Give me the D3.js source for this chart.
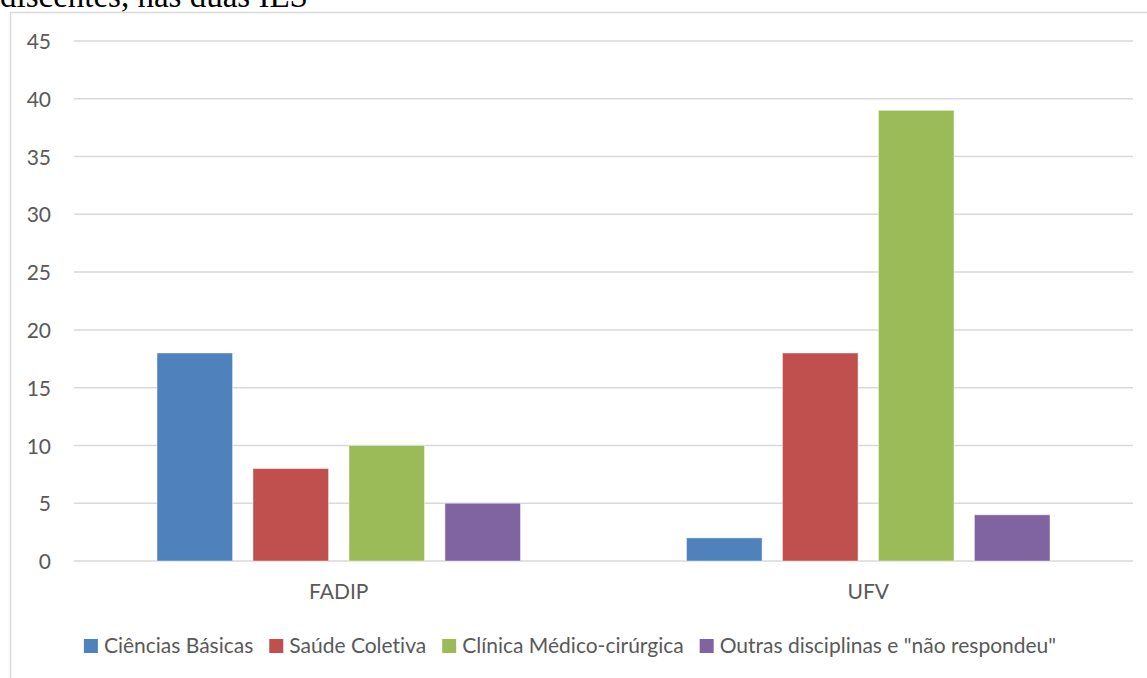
<!DOCTYPE html>
<html>
<head>
<meta charset="utf-8">
<script src="https://cdn.jsdelivr.net/npm/d3@7"></script>
<style>
  html, body { margin: 0; padding: 0; background: #fff; }
  svg { display: block; }
  text { font-variant-ligatures: none; font-feature-settings: "liga" 0, "dlig" 0; }
</style>
</head>
<body>
<svg id="chart" width="1147" height="678"></svg>
<script>
const categories = ["FADIP", "UFV"];
const seriesNames = ["Ciências Básicas", "Saúde Coletiva", "Clínica Médico-cirúrgica", "Outras disciplinas e \"não respondeu\""];
const seriesColors = ["#4f81bd", "#c0504d", "#9bbb59", "#8064a2"];
const cienciasBasicas = [18, 2];
const saudeColetiva = [8, 18];
const clinicaMedica = [10, 39];
const outras = [5, 4];
const yTicks = [0, 5, 10, 15, 20, 25, 30, 35, 40, 45];
const titleText = "discentes, nas duas IES";

const seriesValues = [cienciasBasicas, saudeColetiva, clinicaMedica, outras];

const svg = d3.select("#chart");
const FONT = "Lato, 'Open Sans', sans-serif";
const TXT = "#595959";

// title fragment (cut off at top, as in the reference)
svg.append("text")
  .attr("x", 0).attr("y", 7)
  .attr("font-family", "'Liberation Serif', 'Times New Roman', serif")
  .attr("font-size", 33)
  .attr("fill", "#000")
  .text(titleText);

// chart frame
svg.append("rect")
  .attr("x", 10.5).attr("y", 12.5)
  .attr("width", 1200).attr("height", 700)
  .attr("fill", "none").attr("stroke", "#d9d9d9").attr("stroke-width", 1.5);

const plotLeft = 74, plotRight = 1133, plotTop = 41, plotBottom = 561;

const y = d3.scaleLinear().domain([0, 45]).range([plotBottom, plotTop]);
const x0 = d3.scaleBand().domain(categories).range([plotLeft, plotRight]).padding(0);
const x1 = d3.scaleBand().domain(seriesNames.map((d, i) => i))
  .range([83, x0.bandwidth() - 83]).paddingInner(0.2125).paddingOuter(0);

// gridlines
svg.append("g").selectAll("line").data(yTicks).join("line")
  .attr("x1", plotLeft).attr("x2", plotRight)
  .attr("y1", d => y(d)).attr("y2", d => y(d))
  .attr("stroke", "#d9d9d9").attr("stroke-width", 1.5);

// y axis labels
const yAxis = d3.axisLeft(y).tickValues(yTicks).tickSize(0).tickPadding(0);
const gy = svg.append("g").attr("transform", "translate(51,0)").call(yAxis);
gy.select(".domain").remove();
gy.selectAll("text")
  .attr("font-family", FONT).attr("font-size", 21).attr("fill", TXT)
  .attr("dy", "0.36em");

// bars
const groups = svg.append("g").selectAll("g").data(categories).join("g")
  .attr("transform", d => `translate(${x0(d)},0)`);
groups.selectAll("rect")
  .data((c, ci) => seriesValues.map((vals, si) => ({ si, v: vals[ci] })))
  .join("rect")
  .attr("x", d => x1(d.si))
  .attr("width", x1.bandwidth())
  .attr("y", d => y(d.v))
  .attr("height", d => y(0) - y(d.v))
  .attr("fill", d => seriesColors[d.si])
  .attr("stroke", "#ffffff").attr("stroke-opacity", 0.45).attr("stroke-width", 1);

// x axis labels
const xAxis = d3.axisBottom(x0).tickSize(0).tickPadding(0);
const gx = svg.append("g").attr("transform", `translate(0,${plotBottom})`).call(xAxis);
gx.select(".domain").remove();
gx.selectAll("text")
  .attr("font-family", FONT).attr("font-size", 21).attr("fill", TXT)
  .attr("dy", null).attr("y", 38);

// legend
const legend = svg.append("g");
const items = legend.selectAll("g").data(seriesNames).join("g");
items.append("rect").attr("width", 14).attr("height", 14).attr("y", -14)
  .attr("fill", (d, i) => seriesColors[i]);
items.append("text").attr("x", 20).attr("y", 0)
  .attr("font-family", FONT).attr("font-size", 21).attr("fill", TXT)
  .text(d => d);
let xpos = 0;
const widths = [];
items.each(function () {
  const w = 20 + d3.select(this).select("text").node().getComputedTextLength();
  widths.push(w);
});
const totalW = d3.sum(widths) + 16 * (widths.length - 1);
xpos = 570 - totalW / 2;
items.attr("transform", (d, i) => {
  const t = `translate(${xpos},653)`;
  xpos += widths[i] + 16;
  return t;
});
</script>
</body>
</html>
